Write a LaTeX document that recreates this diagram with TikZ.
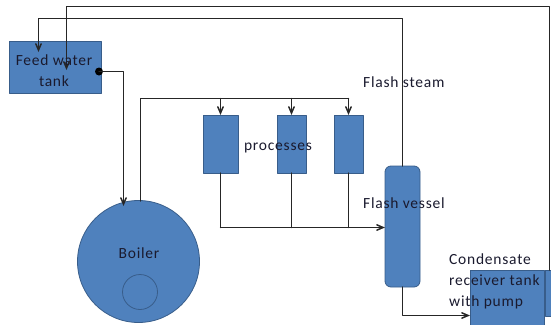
\documentclass[tikz,border=0pt]{standalone}
\usepackage{fontspec}
\setmainfont[LetterSpace=5]{Carlito}
\usetikzlibrary{arrows}
\definecolor{unitfill}{HTML}{4F81BD}
\definecolor{unitedge}{HTML}{385D8A}
\definecolor{pipecol}{HTML}{262626}
\definecolor{labelcol}{HTML}{1A1A2E}
\tikzset{
	unit/.style={draw=unitedge,line width=0.8pt,fill=unitfill,inner sep=0pt,outer sep=0pt},
	pipe/.style={line width=1.5pt,color=pipecol},
	label text/.style={color=labelcol,inner sep=0pt,font=\fontsize{15.5}{21}\selectfont},
}
\begin{document}
\begin{tikzpicture}[line cap=round,line join=round,>=angle 45,x=1pt,y=-1pt]
	\useasboundingbox (0,0) rectangle (551,324);
	\clip (0,0) rectangle (551,324);
	\node[unit,minimum width=92pt,minimum height=52pt] (feedtank) at (55,67) {};
	\node[unit,circle,minimum size=122pt] (boiler) at (138.5,261.5) {};
	\node[unit,circle,fill=none,minimum size=35pt] (firetube) at (140,292) {};
	\node[unit,minimum width=35pt,minimum height=58pt] (processa) at (220.5,144) {};
	\node[unit,minimum width=29pt,minimum height=58pt] (processb) at (291.5,144) {};
	\node[unit,minimum width=29pt,minimum height=58pt] (processc) at (348.5,144) {};
	\node[unit,rounded corners=6pt,minimum width=35pt,minimum height=121pt] (vessel) at (402.5,226.5) {};
	\node[unit,minimum width=74pt,minimum height=60pt] (receiver) at (507,300) {};
	\node[unit,minimum width=20pt,minimum height=46pt] (pump) at (555,293) {};
	\node[circle,fill=black,inner sep=0pt,minimum size=8pt] (outlet) at (99,71.5) {};
	\coordinate (boilerin) at (123.5,206);
	\coordinate (boilerout) at (140.5,201);
	\coordinate (header) at (140.5,98.5);
	\coordinate (headerb) at (291.5,98.5);
	\coordinate (headerc) at (348.5,98.5);
	\coordinate (collecta) at (220.5,227.5);
	\coordinate (collectb) at (291.5,227.5);
	\coordinate (collectc) at (348.5,227.5);
	\coordinate (steamtop) at (402.5,18.5);
	\coordinate (steamend) at (38.5,52);
	\coordinate (returnside) at (549.5,270);
	\coordinate (returntop) at (549.5,6.5);
	\coordinate (returnend) at (66.5,70);
	\coordinate (receiverin) at (470,315.5);
	\coordinate (vesselin) at (385,227.5);
	\draw[pipe,->] (outlet.center) -- (123.5,71.5) -- (boilerin);
	\draw[pipe] (boilerout) -- (header) -- (headerc);
	\draw[pipe,->] (processa.north |- header) -- (processa.north);
	\draw[pipe,->] (headerb) -- (processb.north);
	\draw[pipe,->] (headerc) -- (processc.north);
	\draw[pipe] (processa.south) -- (collecta);
	\draw[pipe] (processb.south) -- (collectb);
	\draw[pipe] (processc.south) -- (collectc);
	\draw[pipe,->] (collecta) -- (vesselin);
	\draw[pipe,->] (vessel.north) -- (steamtop) -- (38.5,18.5) -- (steamend);
	\draw[pipe,->] (returnside) -- (returntop) -- (66.5,6.5) -- (returnend);
	\draw[pipe,->] (vessel.south) -- (402.5,315.5) -- (receiverin);
	\node[label text,align=center] (feedlabel) at (54,71) {Feed water\\tank};
	\node[label text] (boilerlabel) at (139,253) {Boiler};
	\node[label text] (processlabel) at (278,148) {processes};
	\node[label text,anchor=west] (steamlabel) at (363,82) {Flash steam};
	\node[label text,anchor=west] (vessellabel) at (363,203) {Flash vessel};
	\node[label text,anchor=west,align=left] (receiverlabel) at (449,281) {Condensate\\receiver tank\\with pump};
\end{tikzpicture}
\end{document}
